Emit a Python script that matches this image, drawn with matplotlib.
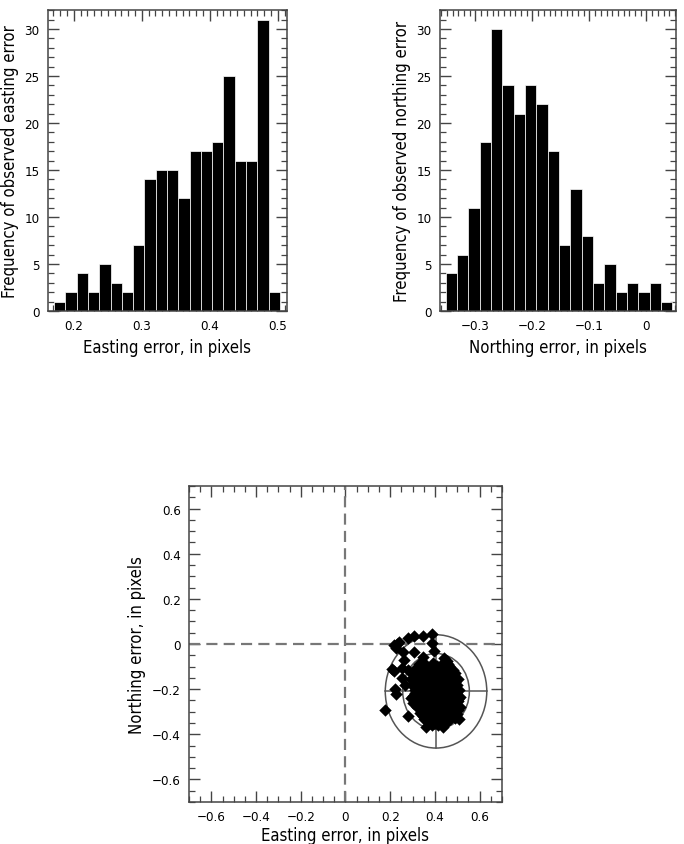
import matplotlib
matplotlib.use("Agg")
import matplotlib.pyplot as plt
from matplotlib.patches import Ellipse
from matplotlib.ticker import MultipleLocator

plt.rcParams['font.family'] = ['DejaVu Sans']
plt.rcParams['font.stretch'] = 'condensed'

# histogram counts
east_start = 0.171
east_width = 0.0166
east_counts = [1, 2, 4, 2, 5, 3, 2, 7, 14, 15, 15, 12, 17, 17, 18, 25, 16, 16, 31, 2]

north_start = -0.3526
north_width = 0.0199
north_counts = [4, 6, 11, 18, 30, 24, 21, 24, 22, 17, 7, 13, 8, 3, 5, 2, 3, 2, 3, 1]

# scatter points (estimated by eye, outliers + dense cluster)
pts = [
    (0.178, -0.293), (0.221, -0.201), (0.226, -0.223), (0.208, -0.111), (0.215, -0.118),
    (0.218, -0.004), (0.232, 0.000), (0.226, -0.016), (0.240, 0.008), (0.278, 0.028),
    (0.308, 0.035), (0.345, 0.035), (0.389, 0.044), (0.259, -0.036), (0.263, -0.070),
    (0.308, -0.034), (0.345, -0.056), (0.389, 0.003), (0.394, -0.031), (0.442, -0.063),
    (0.278, -0.114), (0.253, -0.107), (0.323, -0.107), (0.293, -0.238), (0.278, -0.318),
    (0.360, -0.369), (0.434, -0.369), (0.509, -0.333), (0.464, -0.099), (0.255, -0.150),
    (0.268, -0.182), (0.300, -0.262), (0.452, -0.075), (0.412, -0.360),
    # cluster
    (0.331, -0.088), (0.362, -0.092), (0.391, -0.086), (0.428, -0.094), (0.458, -0.089),
    (0.312, -0.112), (0.343, -0.108), (0.371, -0.114), (0.398, -0.109), (0.421, -0.113),
    (0.452, -0.108), (0.481, -0.115),
    (0.302, -0.133), (0.328, -0.128), (0.353, -0.135), (0.382, -0.129), (0.410, -0.134),
    (0.441, -0.127), (0.468, -0.133), (0.492, -0.130),
    (0.292, -0.156), (0.321, -0.152), (0.348, -0.158), (0.372, -0.153), (0.401, -0.157),
    (0.428, -0.151), (0.452, -0.159), (0.481, -0.154), (0.503, -0.157),
    (0.298, -0.182), (0.332, -0.178), (0.361, -0.184), (0.392, -0.176), (0.413, -0.183),
    (0.442, -0.179), (0.471, -0.185), (0.498, -0.180),
    (0.309, -0.206), (0.338, -0.201), (0.359, -0.208), (0.381, -0.203), (0.418, -0.209),
    (0.451, -0.204), (0.478, -0.207), (0.508, -0.202),
    (0.301, -0.231), (0.323, -0.227), (0.352, -0.233), (0.372, -0.228), (0.402, -0.234),
    (0.431, -0.229), (0.462, -0.232), (0.489, -0.228), (0.511, -0.233),
    (0.312, -0.256), (0.341, -0.252), (0.363, -0.259), (0.392, -0.253), (0.421, -0.257),
    (0.443, -0.251), (0.472, -0.258), (0.502, -0.254),
    (0.322, -0.281), (0.351, -0.277), (0.382, -0.283), (0.409, -0.278), (0.432, -0.284),
    (0.461, -0.279), (0.491, -0.282), (0.512, -0.277),
    (0.332, -0.306), (0.362, -0.302), (0.393, -0.308), (0.421, -0.303), (0.452, -0.307),
    (0.481, -0.301), (0.499, -0.309),
    (0.351, -0.331), (0.381, -0.327), (0.412, -0.333), (0.441, -0.328), (0.469, -0.334),
    (0.488, -0.326),
    (0.372, -0.352), (0.401, -0.348), (0.428, -0.354), (0.452, -0.346),
    (0.348, -0.146), (0.458, -0.142), (0.378, -0.242), (0.468, -0.268), (0.338, -0.266),
    (0.418, -0.196), (0.489, -0.193), (0.432, -0.318), (0.362, -0.318), (0.318, -0.168),
    # in-between fill for the solid core
    (0.346, -0.099), (0.377, -0.101), (0.411, -0.098), (0.442, -0.101), (0.468, -0.118),
    (0.316, -0.142), (0.366, -0.143), (0.396, -0.142), (0.427, -0.140), (0.483, -0.141),
    (0.306, -0.169), (0.337, -0.166), (0.386, -0.166), (0.416, -0.168), (0.463, -0.168),
    (0.492, -0.167), (0.318, -0.193), (0.348, -0.191), (0.376, -0.190), (0.432, -0.192),
    (0.458, -0.191), (0.313, -0.218), (0.368, -0.217), (0.398, -0.221), (0.437, -0.217),
    (0.466, -0.219), (0.496, -0.216), (0.327, -0.242), (0.357, -0.245), (0.417, -0.243),
    (0.447, -0.242), (0.478, -0.244), (0.503, -0.242), (0.327, -0.268), (0.378, -0.266),
    (0.408, -0.267), (0.432, -0.266), (0.486, -0.267), (0.337, -0.293), (0.367, -0.292),
    (0.397, -0.294), (0.446, -0.292), (0.476, -0.293), (0.504, -0.293), (0.346, -0.318),
    (0.398, -0.319), (0.467, -0.318), (0.489, -0.315), (0.367, -0.340), (0.426, -0.341),
    (0.456, -0.339), (0.387, -0.357), (0.414, -0.345), (0.356, -0.122), (0.436, -0.118),
]
east_err = [p[0] for p in pts]
north_err = [p[1] for p in pts]

ell_center = (0.405, -0.21)
ell_outer = (0.454, 0.502)   # full width, height
ell_inner = (0.298, 0.336)

fig = plt.figure(figsize=(6.84, 8.45), dpi=100)
ax1 = fig.add_axes([0.0702, 0.6308, 0.349, 0.356])
ax2 = fig.add_axes([0.643, 0.6308, 0.345, 0.356])
ax3 = fig.add_axes([0.2763, 0.0497, 0.4576, 0.374])


def style(ax, xmaj, xmin, ymaj, ymin):
    ax.xaxis.set_major_locator(MultipleLocator(xmaj))
    ax.xaxis.set_minor_locator(MultipleLocator(xmin))
    ax.yaxis.set_major_locator(MultipleLocator(ymaj))
    ax.yaxis.set_minor_locator(MultipleLocator(ymin))
    ax.tick_params(which='both', direction='in', top=True, right=True,
                   color='#444444', labelsize=9.5, pad=6)
    ax.tick_params(which='major', length=8, width=1)
    ax.tick_params(which='minor', length=4, width=0.9)
    for s in ax.spines.values():
        s.set_color('#444444')
        s.set_linewidth(1.1)
    ax.set_axisbelow(True)
    fmt = lambda v, pos: ('%g' % round(v, 2)).replace('-', '\u2212')
    ax.xaxis.set_major_formatter(fmt)
    ax.yaxis.set_major_formatter(fmt)


ax1.bar([east_start + i * east_width for i in range(len(east_counts))], east_counts,
        width=east_width, align='edge', color='black', edgecolor='white', linewidth=0.5)
ax1.set_xlim(0.162, 0.513)
ax1.set_ylim(0, 32)
style(ax1, 0.1, 0.01, 5, 1)
ax1.set_xlabel('Easting error, in pixels', fontsize=12)
ax1.set_ylabel('Frequency of observed easting error', fontsize=12, labelpad=4)

ax2.bar([north_start + i * north_width for i in range(len(north_counts))], north_counts,
        width=north_width, align='edge', color='black', edgecolor='white', linewidth=0.5)
ax2.set_xlim(-0.3626, 0.0514)
ax2.set_ylim(0, 32)
style(ax2, 0.1, 0.01, 5, 1)
ax2.set_xlabel('Northing error, in pixels', fontsize=12)
ax2.set_ylabel('Frequency of observed northing error', fontsize=12, labelpad=4)

ax3.axvline(0, color='#777777', lw=1.6, ls=(0, (5, 2.8)), zorder=1)
ax3.axhline(0, color='#777777', lw=1.6, ls=(0, (5, 2.8)), zorder=1)
for w, h in (ell_outer, ell_inner):
    ax3.add_patch(Ellipse(ell_center, w, h, fill=False, edgecolor='#555555', lw=1.1, zorder=2))
cx, cy = ell_center
ax3.plot([cx - ell_outer[0] / 2, cx + ell_outer[0] / 2], [cy, cy], color='#555555', lw=1.1, zorder=2)
ax3.plot([cx, cx], [cy - ell_outer[1] / 2, cy + ell_outer[1] / 2], color='#555555', lw=1.1, zorder=2)
ax3.scatter(east_err, north_err, marker='D', s=40, color='black', linewidths=0, zorder=3)
ax3.set_xlim(-0.7, 0.7)
ax3.set_ylim(-0.7, 0.7)
style(ax3, 0.2, 0.05, 0.2, 0.05)
ax3.set_xlabel('Easting error, in pixels', fontsize=12, labelpad=2)
ax3.set_ylabel('Northing error, in pixels', fontsize=12)

fig.savefig('out.png', dpi=100)
